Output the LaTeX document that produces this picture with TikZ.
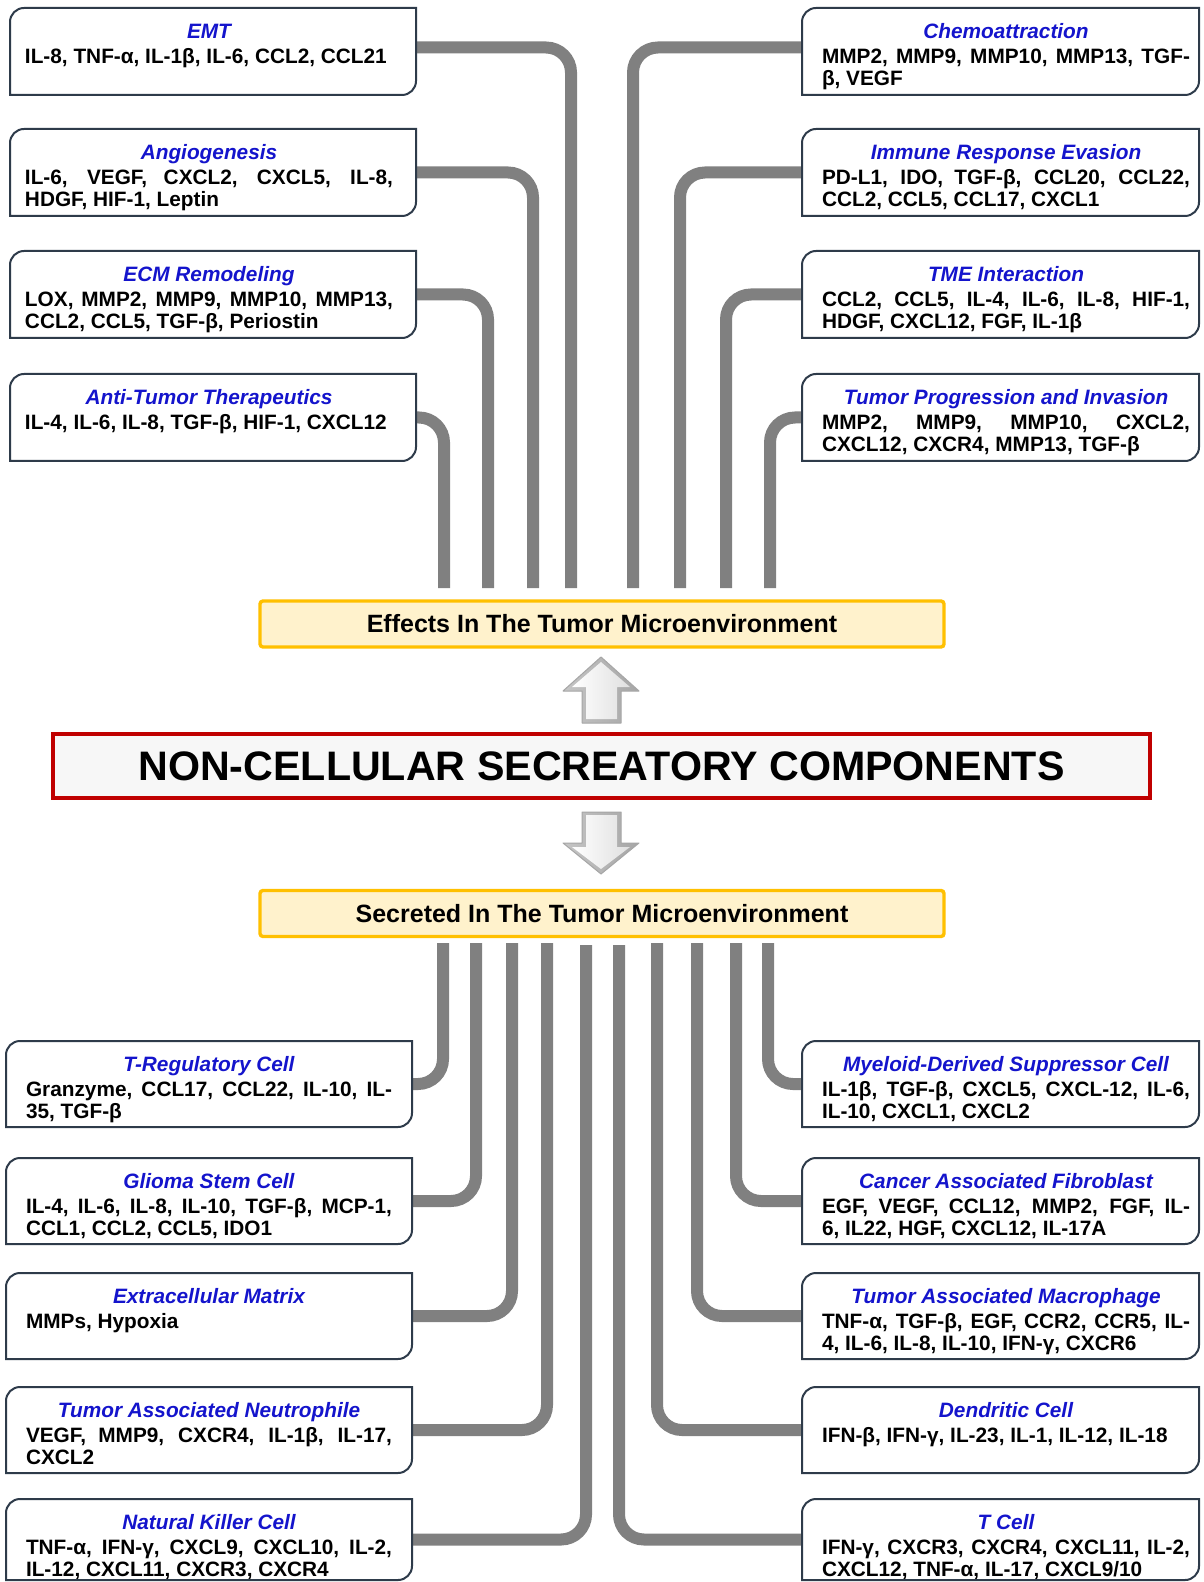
\documentclass[tikz,border=0pt]{standalone}
\usepackage{fontspec}
\setmainfont{Liberation Sans}
\definecolor{conngray}{HTML}{808080}
\definecolor{boxedge}{HTML}{2E3B4A}
\definecolor{titleblue}{HTML}{1414CC}
\definecolor{bandfill}{HTML}{FFF2CC}
\definecolor{bandedge}{HTML}{FFC000}
\definecolor{corered}{HTML}{C00000}
\definecolor{corefill}{HTML}{F7F7F7}

% text of an information box: width, height, left skip, right skip, title, body
\newcommand\boxtext[6]{%
  \parbox[t][#2][t]{#1}{%
    \fontsize{10.4pt}{11pt}\selectfont\bfseries
    \hyphenpenalty=10000 \exhyphenpenalty=10000 \parindent=0pt
    {\leftskip=#3 plus 1fil\relax\rightskip=#4 plus 1fil\relax\parfillskip=0pt\relax
     \rule{0pt}{15.25pt}\itshape\color{titleblue}#5\par}%
    \vspace{1.5pt}%
    {\leftskip=#3\relax\rightskip=#4\relax\parfillskip=0pt plus 1fil\relax #6\par}}}
\newcommand\ltxt[2]{\boxtext{203pt}{43.5pt}{7.5pt}{11.5pt}{#1}{#2}}
\newcommand\rtxt[2]{\boxtext{198.5pt}{43.5pt}{10pt}{4.5pt}{#1}{#2}}
\newcommand\lbtxt[3]{\boxtext{203pt}{#1}{10pt}{10pt}{#2}{#3}}
\newcommand\rbtxt[3]{\boxtext{198.5pt}{#1}{10pt}{4.5pt}{#2}{#3}}

% frame with two rounded corners (top left, bottom right)
\newcommand\drawframe[1]{%
  \draw[frameline] (#1.south west) -- ([yshift=-7pt]#1.north west)
    arc[start angle=180,end angle=90,radius=7pt] -- (#1.north east)
    -- ([yshift=7pt]#1.south east)
    arc[start angle=0,end angle=-90,radius=7pt] -- cycle;}

\tikzset{
  ibox/.style={inner sep=0pt, outer sep=0pt, anchor=north west},
  conn/.style={draw=conngray, line width=6pt, rounded corners=12.5pt},
  frameline/.style={draw=boxedge, line width=1pt},
  band/.style={draw=bandedge, fill=bandfill, line width=1.7pt, rounded corners=1.5pt,
    minimum width=342pt, minimum height=23pt, inner sep=0pt,
    font=\fontsize{12.5pt}{14pt}\selectfont\bfseries},
  core/.style={draw=corered, fill=corefill, line width=2pt,
    minimum width=548.5pt, minimum height=32pt, inner sep=0pt,
    font=\fontsize{20.6pt}{24pt}\selectfont\bfseries},
  arrowrim/.style={left color=gray!45, right color=gray!70, draw=gray!70,
    line width=0.5pt, line join=round},
  arrowface/.style={left color=white, middle color=white, right color=gray!25}
}

\begin{document}
\begin{tikzpicture}[x=0.5pt,y=-0.5pt]
\fill[white] (0,0) rectangle (1203,1582);
\useasboundingbox (0,0) rectangle (1203,1582);

% central blocks
\node[band] (effects) at (602,624) {Effects In The Tumor Microenvironment};
\node[band] (secreted) at (602,913.5) {Secreted In The Tumor Microenvironment};
\node[core] (core) at (601.5,766) {NON-CELLULAR SECREATORY COMPONENTS};

% bevelled block arrows
\path[arrowrim] (582,723) -- (582,691) -- (563,691) -- (601,657) -- (639,691)
  -- (621,691) -- (621,723) -- cycle;
\path[arrowface] (586,719) -- (586,687) -- (572,687) -- (601,662) -- (630,687)
  -- (617,687) -- (617,719) -- cycle;
\path[arrowrim] (582,812) -- (621,812) -- (621,843) -- (639,843) -- (601,874)
  -- (563,843) -- (582,843) -- cycle;
\path[arrowface] (586,815) -- (617,815) -- (617,847) -- (630,847) -- (601,869)
  -- (572,847) -- (586,847) -- cycle;

% effects (upper half)
\node[ibox] (emt) at (10,8) {\ltxt{EMT}{IL-8, TNF-α, IL-1β, IL-6, CCL2, CCL21}};
\node[ibox] (angio) at (10,129) {\ltxt{Angiogenesis}{IL-6, VEGF, CXCL2, CXCL5, IL-8,\linebreak HDGF, HIF-1, Leptin}};
\node[ibox] (ecmr) at (10,251) {\ltxt{ECM Remodeling}{LOX, MMP2, MMP9, MMP10, MMP13,\linebreak CCL2, CCL5, TGF-β, Periostin}};
\node[ibox] (anti) at (10,374) {\ltxt{Anti-Tumor Therapeutics}{IL-4, IL-6, IL-8, TGF-β, HIF-1, CXCL12}};

\node[ibox] (chemo) at (802,8) {\rtxt{Chemoattraction}{MMP2, MMP9, MMP10, MMP13, TGF-\linebreak β, VEGF}};
\node[ibox] (immune) at (802,129) {\rtxt{Immune Response Evasion}{PD-L1, IDO, TGF-β, CCL20, CCL22,\linebreak CCL2, CCL5, CCL17, CXCL1}};
\node[ibox] (tme) at (802,251) {\rtxt{TME Interaction}{CCL2, CCL5, IL-4, IL-6, IL-8, HIF-1,\linebreak HDGF, CXCL12, FGF, IL-1β}};
\node[ibox] (prog) at (802,374) {\rtxt{Tumor Progression and Invasion}{MMP2, MMP9, MMP10, CXCL2,\linebreak CXCL12, CXCR4, MMP13, TGF-β}};

% sources (lower half)
\node[ibox] (treg) at (6,1041) {\lbtxt{43pt}{T-Regulatory Cell}{Granzyme, CCL17, CCL22, IL-10, IL-\linebreak 35, TGF-β}};
\node[ibox] (gsc) at (6,1158) {\lbtxt{43pt}{Glioma Stem Cell}{IL-4, IL-6, IL-8, IL-10, TGF-β, MCP-1,\linebreak CCL1, CCL2, CCL5, IDO1}};
\node[ibox] (ecm) at (6,1273) {\lbtxt{43pt}{Extracellular Matrix}{MMPs, Hypoxia}};
\node[ibox] (tan) at (6,1387) {\lbtxt{43pt}{Tumor Associated Neutrophile}{VEGF, MMP9, CXCR4, IL-1β, IL-17,\linebreak CXCL2}};
\node[ibox] (nk) at (6,1499) {\lbtxt{40.5pt}{Natural Killer Cell}{TNF-α, IFN-γ, CXCL9, CXCL10, IL-2,\linebreak IL-12, CXCL11, CXCR3, CXCR4}};

\node[ibox] (mdsc) at (802,1041) {\rbtxt{43pt}{Myeloid-Derived Suppressor Cell}{IL-1β, TGF-β, CXCL5, CXCL-12, IL-6,\linebreak IL-10, CXCL1, CXCL2}};
\node[ibox] (caf) at (802,1158) {\rbtxt{43pt}{Cancer Associated Fibroblast}{EGF, VEGF, CCL12, MMP2, FGF, IL-\linebreak 6, IL22, HGF, CXCL12, IL-17A}};
\node[ibox] (tam) at (802,1273) {\rbtxt{43pt}{Tumor Associated Macrophage}{TNF-α, TGF-β, EGF, CCR2, CCR5, IL-\linebreak 4, IL-6, IL-8, IL-10, IFN-γ, CXCR6}};
\node[ibox] (dc) at (802,1387) {\rbtxt{43pt}{Dendritic Cell}{IFN-β, IFN-γ, IL-23, IL-1, IL-12, IL-18}};
\node[ibox] (tcell) at (802,1499) {\rbtxt{40.5pt}{T Cell}{IFN-γ, CXCR3, CXCR4, CXCL11, IL-2,\linebreak CXCL12, TNF-α, IL-17, CXCL9/10}};

% connector ends next to the two bands
\coordinate (t1) at (571,588);
\coordinate (t2) at (533,588);
\coordinate (t3) at (488,588);
\coordinate (t4) at (444,588);
\coordinate (t5) at (633,588);
\coordinate (t6) at (680,588);
\coordinate (t7) at (726,588);
\coordinate (t8) at (770,588);
\coordinate (b1) at (443,943);
\coordinate (b2) at (476,943);
\coordinate (b3) at (512,943);
\coordinate (b4) at (547,943);
\coordinate (b5) at (586,945);
\coordinate (b6) at (768,943);
\coordinate (b7) at (736,943);
\coordinate (b8) at (697,943);
\coordinate (b9) at (657,943);
\coordinate (b10) at (619,945);

% connectors
\draw[conn] ([yshift=2pt]emt.east) -| (t1);
\draw[conn] (angio.east) -| (t2);
\draw[conn] (ecmr.east) -| (t3);
\draw[conn] (anti.east) -| (t4);
\draw[conn] ([yshift=2pt]chemo.west) -| (t5);
\draw[conn] (immune.west) -| (t6);
\draw[conn] (tme.west) -| (t7);
\draw[conn] (prog.west) -| (t8);
\draw[conn] (b1) |- (treg.east);
\draw[conn] (b2) |- (gsc.east);
\draw[conn] (b3) |- (ecm.east);
\draw[conn] (b4) |- (tan.east);
\draw[conn] (b5) |- (nk.east);
\draw[conn] (b6) |- (mdsc.west);
\draw[conn] (b7) |- (caf.west);
\draw[conn] (b8) |- (tam.west);
\draw[conn] (b9) |- (dc.west);
\draw[conn] (b10) |- (tcell.west);

% frames
\foreach \n in {emt,angio,ecmr,anti,chemo,immune,tme,prog,treg,gsc,ecm,tan,nk,mdsc,caf,tam,dc,tcell}
  {\drawframe{\n}}
\end{tikzpicture}
\end{document}
